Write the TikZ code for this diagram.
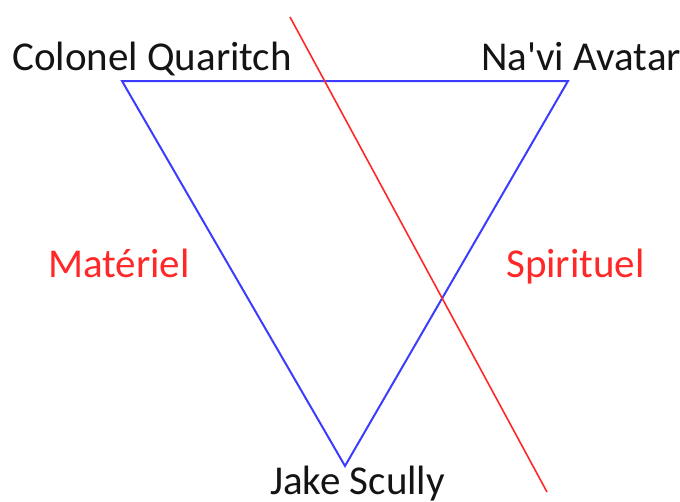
\documentclass[tikz,border=0pt]{standalone}
\usepackage{fontspec}
\setmainfont{Carlito}[Ligatures=TeXOff]
\definecolor{triblue}{RGB}{60,60,255}
\definecolor{linered}{RGB}{255,40,40}
\definecolor{txt}{RGB}{20,20,20}
\begin{document}
\begin{tikzpicture}[x=1pt,y=-1pt,
  lbl/.style={inner sep=0pt,anchor=base west,font=\fontsize{41}{48}\selectfont},
  blk/.style={lbl,text=txt},
  redlbl/.style={lbl,text=linered},
  tri/.style={draw=triblue,line width=2pt,line join=miter},
  sep/.style={draw=linered,line width=1.6pt}]
\useasboundingbox (0,0) rectangle (680,501);
\coordinate (cq) at (122,81);
\coordinate (na) at (568,81);
\coordinate (js) at (345,466);
\coordinate (rt) at (290,17);
\coordinate (rb) at (547,492);
\draw[tri] (cq) -- (na) -- (js) -- cycle;
\draw[sep] (rt) -- (rb);
\node[blk] (cql) at (12,70) {Colonel Quaritch};
\node[blk] (nal) at (481,70) {Na'vi Avatar};
\node[blk] (jsl) at (270,494) {Jake Scully};
\node[redlbl] (mat) at (48,277) {Matériel};
\node[redlbl] (spi) at (506,277) {Spirituel};
\end{tikzpicture}
\end{document}
